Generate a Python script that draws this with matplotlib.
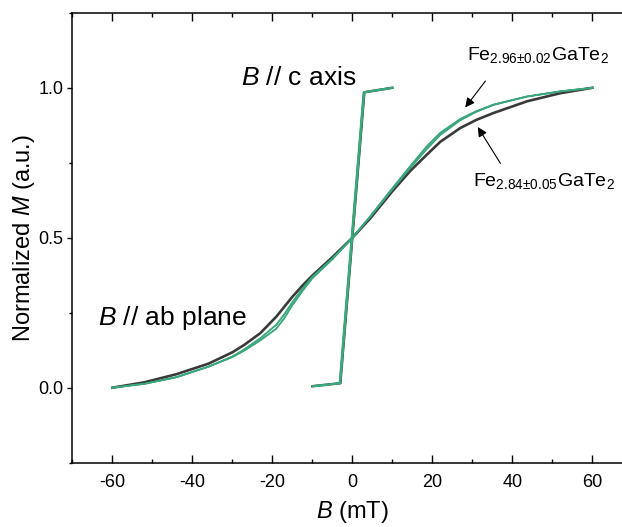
import numpy as np
import matplotlib.pyplot as plt
from matplotlib.ticker import MultipleLocator

plt.rcParams['font.family'] = ['Liberation Sans', 'DejaVu Sans']
plt.rcParams['axes.unicode_minus'] = False
plt.rcParams['mathtext.fontset'] = 'custom'
plt.rcParams['mathtext.rm'] = 'Liberation Sans'
plt.rcParams['mathtext.it'] = 'Liberation Sans:italic'

# ab-plane loops (B in mT, normalized M)
B_ab = [-60, -52, -44, -36, -30, -27, -23, -19, -17, -15, -12.5, -10, -5, 0,
        4.5, 10, 14.5, 18.7, 22, 27, 31, 35.3, 43.7, 52, 60]
# Fe2.96 GaTe2, two branches
M_ab_296_a = [0.0, 0.013, 0.035, 0.07, 0.102, 0.124, 0.158, 0.197, 0.232, 0.275, 0.322, 0.365, 0.428, 0.5,
              0.572, 0.665, 0.739, 0.806, 0.85, 0.896, 0.922, 0.944, 0.971, 0.988, 1.0]
M_ab_296_b = [0.0, 0.013, 0.035, 0.07, 0.104, 0.128, 0.165, 0.21, 0.245, 0.285, 0.33, 0.37, 0.431, 0.5,
              0.57, 0.661, 0.733, 0.797, 0.843, 0.892, 0.920, 0.943, 0.971, 0.988, 1.0]
# Fe2.84 GaTe2
M_ab_284 = [0.0, 0.018, 0.045, 0.08, 0.118, 0.143, 0.182, 0.237, 0.27, 0.303, 0.34, 0.374, 0.435, 0.5,
            0.565, 0.655, 0.723, 0.778, 0.82, 0.866, 0.893, 0.916, 0.955, 0.982, 1.0]

# c-axis loops
B_c = [-10, -3, 3, 10]
M_c = [0.005, 0.015, 0.985, 1.0]
B_c2 = [-10, -3.2, 2.8, 10]

fig = plt.figure(figsize=(6.22, 5.27), dpi=100)
ax = fig.add_axes([0.1163, 0.1220, 0.9003, 0.8537])

black = '#3a3a3a'
green = '#3cb371'
blue = '#2a4fd0'

ax.plot(B_ab, M_ab_284, color=black, lw=1.9)
ax.plot(B_c, M_c, color=black, lw=1.8)
for M in (M_ab_296_a, M_ab_296_b):
    ax.plot(B_ab, M, color=blue, lw=0.9)
    ax.plot(B_ab, M, color=green, lw=1.3, alpha=0.9)
for Bc in (B_c, B_c2):
    ax.plot(Bc, M_c, color=blue, lw=0.9)
    ax.plot(Bc, M_c, color=green, lw=1.4, alpha=0.9)

ax.set_xlim(-70, 70)
ax.set_ylim(-0.25, 1.25)
ax.xaxis.set_major_locator(MultipleLocator(20))
ax.xaxis.set_minor_locator(MultipleLocator(10))
ax.yaxis.set_major_locator(MultipleLocator(0.5))
ax.yaxis.set_minor_locator(MultipleLocator(0.25))
ax.tick_params(axis='x', which='both', direction='in', top=True, labelsize=13, pad=8, width=1)
ax.tick_params(axis='x', which='major', length=5.5)
ax.tick_params(axis='x', which='minor', length=2.7)
ax.tick_params(axis='y', which='both', direction='out', labelsize=13, pad=3, width=1)
ax.tick_params(axis='y', which='major', length=3.5)
ax.tick_params(axis='y', which='minor', length=2.5)
for s in ax.spines.values():
    s.set_linewidth(1.1)

ax.set_xlabel('$\\mathit{B}$ (mT)', fontsize=17, labelpad=6)
ax.set_ylabel('Normalized $\\mathit{M}$ (a.u.)', fontsize=17, labelpad=0.5)

ax.text(-27.8, 1.01, '$\\mathit{B}$ // c axis', fontsize=19)
ax.text(-63.5, 0.21, '$\\mathit{B}$ // ab plane', fontsize=19)
ax.text(28.75, 1.093, 'Fe$_{2.96\u00b10.02}$GaTe$_2$', fontsize=14)
ax.text(30.25, 0.672, 'Fe$_{2.84\u00b10.05}$GaTe$_2$', fontsize=14)
arrow = dict(arrowstyle='-|>', color='black', lw=0.8, mutation_scale=14)
ax.annotate('', xy=(27.8, 0.927), xytext=(33.7, 1.03), arrowprops=arrow)
ax.annotate('', xy=(31, 0.877), xytext=(37.4, 0.74), arrowprops=arrow)

fig.savefig('out.png', dpi=100)
